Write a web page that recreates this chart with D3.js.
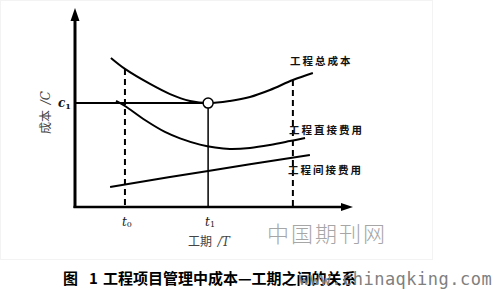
<!DOCTYPE html>
<html>
<head>
<meta charset="utf-8">
<script src="https://cdn.jsdelivr.net/npm/d3@7"></script>
<style>
  body { margin: 0; background: #fff; }
  svg { display: block; }
</style>
</head>
<body>
<div id="chart-area"></div>
<script>
// values (time / cost units, 0..10)
var totalCost = [[1.33,7.64],[1.85,7.08],[2.78,6.31],[3.52,5.79],[4.26,5.44],[4.93,5.33],
                 [5.74,5.44],[6.48,5.64],[7.22,6.00],[8.07,6.51],[8.81,6.87]];
var directCost = [[1.52,5.44],[1.85,5.18],[2.59,4.46],[3.33,3.85],[3.89,3.52],[4.63,3.20],
                  [5.19,3.05],[5.74,2.98],[6.48,3.03],[7.22,3.18],[7.96,3.38],[8.52,3.54]];
var indirectCost = [[1.30,1.03],[4.93,1.85],[8.70,2.67]];
var seriesNames = ["工程总成本", "工程直接费用", "工程间接费用"];
var tickNames = ["0", "1"];        // subscripts of t
var tickValues = [1.85, 4.93];
var t2 = 8.07, t2Cost = 6.51, t0Cost = 7.08;
var c1 = 5.33;

var width = 493, height = 289;
var svg = d3.select("#chart-area").append("svg")
    .attr("width", width).attr("height", height);

// faint frame of the scanned figure
svg.append("rect").attr("x", 0.5).attr("y", 0.5).attr("width", 432).attr("height", 259)
    .attr("fill", "none").attr("stroke", "#f3f3f3");

var x = d3.scaleLinear().domain([0, 10]).range([75, 345]);
var y = d3.scaleLinear().domain([0, 10]).range([207, 12]);

var line = d3.line()
    .x(function(d){ return x(d[0]); })
    .y(function(d){ return y(d[1]); })
    .curve(d3.curveCatmullRom.alpha(0.5));

// axes
svg.append("line")
    .attr("x1", x(0)).attr("x2", x(0))
    .attr("y1", y(0) + 1).attr("y2", 18)
    .attr("stroke", "#000").attr("stroke-width", 3);
svg.append("path")
    .attr("d", "M" + x(0) + ",8 L" + (x(0) - 4.5) + ",21 L" + (x(0) + 4.5) + ",21 Z")
    .attr("fill", "#000");
svg.append("line")
    .attr("x1", x(0) - 1.5).attr("x2", 343)
    .attr("y1", y(0)).attr("y2", y(0))
    .attr("stroke", "#000").attr("stroke-width", 2.5);
svg.append("path")
    .attr("d", "M353," + y(0) + " L341," + (y(0) - 4) + " L341," + (y(0) + 4) + " Z")
    .attr("fill", "#000");

// curves
[totalCost, directCost, indirectCost].forEach(function(s){
    svg.append("path")
        .attr("d", line(s))
        .attr("fill", "none")
        .attr("stroke", "#000")
        .attr("stroke-width", 2);
});

// c1 guide
svg.append("line")
    .attr("x1", x(0)).attr("x2", x(tickValues[1]) - 5)
    .attr("y1", y(c1)).attr("y2", y(c1))
    .attr("stroke", "#000").attr("stroke-width", 2);

// t1 guide
svg.append("line")
    .attr("x1", x(tickValues[1])).attr("x2", x(tickValues[1]))
    .attr("y1", y(c1) + 5).attr("y2", y(0))
    .attr("stroke", "#000").attr("stroke-width", 1.5);

// dashed guides t0, t2
[[tickValues[0], t0Cost], [t2, t2Cost]].forEach(function(d){
    svg.append("line")
        .attr("x1", x(d[0])).attr("x2", x(d[0]))
        .attr("y1", y(d[1])).attr("y2", y(0))
        .attr("stroke", "#000").attr("stroke-width", 2)
        .attr("stroke-dasharray", "6,4");
});

svg.append("circle")
    .attr("cx", x(tickValues[1])).attr("cy", y(c1)).attr("r", 5)
    .attr("fill", "#fff").attr("stroke", "#000").attr("stroke-width", 1.5);

// c1 label
var cl = svg.append("text")
    .attr("x", 58).attr("y", 107)
    .attr("font-family", "DejaVu Serif, serif")
    .attr("font-style", "italic").attr("font-weight", "bold")
    .attr("font-size", "12px").attr("fill", "#111");
cl.append("tspan").text("c");
cl.append("tspan").attr("dy", 2).attr("font-size", "8px").attr("font-style", "normal").text("1");

// time tick labels
tickValues.forEach(function(v, i){
    var t = svg.append("text")
        .attr("x", x(v) - 3).attr("y", 226)
        .attr("font-family", "DejaVu Serif, serif")
        .attr("font-style", "italic")
        .attr("font-size", "12px").attr("fill", "#222");
    t.append("tspan").text("t");
    t.append("tspan").attr("dy", 1).attr("font-size", "8px").attr("font-style", "normal").text(tickNames[i]);
});

// axis titles
var xt = svg.append("text")
    .attr("x", 188).attr("y", 246)
    .attr("font-family", "Noto Sans CJK SC, sans-serif")
    .attr("font-size", "12px").attr("fill", "#444");
xt.append("tspan").text("工期 ");
xt.append("tspan").attr("dx", 3).attr("font-family", "DejaVu Serif, serif").attr("font-style", "italic").text("/T");

var yt = svg.append("text")
    .attr("transform", "translate(50,134) rotate(-90)")
    .attr("font-family", "Noto Sans CJK SC, sans-serif")
    .attr("font-size", "12px").attr("fill", "#444");
yt.append("tspan").text("成本 ");
yt.append("tspan").attr("dx", 3).attr("font-family", "DejaVu Serif, serif").attr("font-style", "italic").text("/C");

// series labels
var labelPos = [[290, 65], [289, 134], [288, 174]];
seriesNames.forEach(function(n, i){
    svg.append("text")
        .attr("x", labelPos[i][0]).attr("y", labelPos[i][1])
        .attr("font-family", "Noto Sans CJK SC, sans-serif")
        .attr("font-weight", "bold")
        .attr("font-size", "10.5px")
        .attr("letter-spacing", "2px")
        .attr("fill", "#111")
        .text(n);
});

// watermark
svg.append("text")
    .attr("x", 267).attr("y", 242)
    .attr("font-family", "Noto Sans CJK SC, sans-serif")
    .attr("font-weight", 300)
    .attr("font-size", "22px")
    .attr("letter-spacing", "2px")
    .attr("fill", "#a6a6a6")
    .text("中国期刊网");

// caption
var cap = svg.append("text")
    .attr("y", 284)
    .attr("font-family", "Noto Sans CJK SC, sans-serif")
    .attr("font-weight", "bold")
    .attr("font-size", "15px")
    .attr("fill", "#000");
cap.append("tspan").attr("x", 63).text("图");
cap.append("tspan").attr("x", 89).text("1");
cap.append("tspan").attr("x", 103).text("工程项目管理中成本—工期之间的关系");

svg.append("text")
    .attr("x", 299).attr("y", 285)
    .attr("font-family", "DejaVu Sans Mono, monospace")
    .attr("font-size", "17px")
    .attr("letter-spacing", "0.5px")
    .attr("fill", "#808080")
    .text("www.chinaqking.com");
</script>
</body>
</html>
